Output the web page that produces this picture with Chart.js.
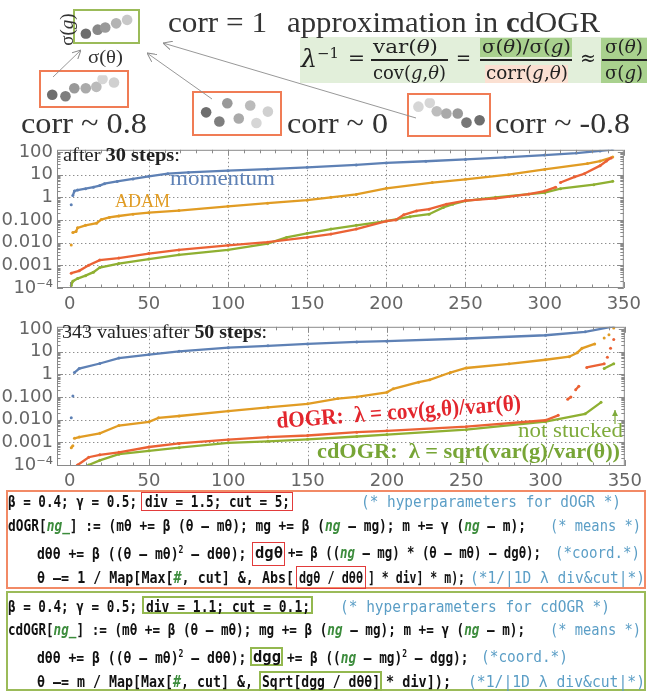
<!DOCTYPE html>
<html>
<head>
<meta charset="utf-8">
<script src="https://cdn.jsdelivr.net/npm/chart.js@4.4.0/dist/chart.umd.min.js"></script>
<style>
  html, body { margin: 0; padding: 0; background: #fff; overflow: hidden; }
  #page { position: relative; width: 647px; height: 692px; overflow: hidden; color: #333; font-family: "Liberation Serif", serif; }
  .t { position: absolute; white-space: nowrap; line-height: 1; transform-origin: 0 0; }
  .box { position: absolute; box-sizing: border-box; }
  canvas { position: absolute; }
  .ng { color: #3c8c3c; font-style: italic; font-weight: bold; }
</style>
</head>
<body>
<div id="page">
  <!-- boxes of the top sketch -->
  <div class="box" style="left:73px;top:9px;width:67px;height:35px;border:2px solid #9bbb59"></div>
  <div class="box" style="left:39px;top:70px;width:90px;height:38px;border:2px solid #f07c55"></div>
  <div class="box" style="left:192px;top:91px;width:90px;height:45px;border:2px solid #f07c55"></div>
  <div class="box" style="left:407px;top:93px;width:84px;height:44px;border:2px solid #f07c55"></div>
  <canvas id="ic1" width="67" height="35" style="left:73px;top:9px"></canvas>
  <canvas id="ic2" width="90" height="38" style="left:39px;top:70px"></canvas>
  <canvas id="ic3" width="90" height="45" style="left:192px;top:91px"></canvas>
  <canvas id="ic4" width="84" height="44" style="left:407px;top:93px"></canvas>

  <!-- formula background -->
  <div class="box" style="left:300px;top:37px;width:347px;height:46px;background:#e2efda"></div>
  <div class="box" style="left:480px;top:38px;width:92px;height:19px;background:#a9d18e"></div>
  <div class="box" style="left:485px;top:65px;width:83px;height:18px;background:#fbe0d2"></div>
  <div class="box" style="left:601px;top:38px;width:46px;height:45px;background:#a9d18e"></div>
  <div class="box" style="left:371px;top:59px;width:77px;height:1.5px;background:#222"></div>
  <div class="box" style="left:480px;top:59px;width:92px;height:1.5px;background:#222"></div>
  <div class="box" style="left:602px;top:59px;width:45px;height:1.5px;background:#222"></div>

  <canvas id="c1" width="647" height="180" style="left:0;top:135px"></canvas>
  <canvas id="c2" width="647" height="180" style="left:0;top:312px"></canvas>

  <!-- code boxes -->
  <div class="box" style="left:6px;top:490px;width:640px;height:99px;border:2px solid #f28a66"></div>
  <div class="box" style="left:6px;top:591px;width:640px;height:100px;border:2px solid #9bbb59"></div>
  <div class="box" style="left:141px;top:492px;width:152px;height:19px;border:1.5px solid #e23b3b"></div>
  <div class="box" style="left:252px;top:542px;width:33px;height:24px;border:1.5px solid #e23b3b"></div>
  <div class="box" style="left:296px;top:566px;width:70px;height:23px;border:1.5px solid #e23b3b"></div>
  <div class="box" style="left:142px;top:596px;width:171px;height:18px;border:2px solid #93b84f"></div>
  <div class="box" style="left:250px;top:647px;width:33px;height:19px;border:2px solid #93b84f"></div>
  <div class="box" style="left:259px;top:671px;width:123px;height:20px;border:2px solid #93b84f"></div>

  <svg width="647" height="692" style="position:absolute;left:0;top:0">
    <defs>
      <marker id="ah" viewBox="0 0 10 10" refX="10" refY="5" markerWidth="9" markerHeight="9" orient="auto" markerUnits="userSpaceOnUse">
        <path d="M0,0 L10,5 L0,10" fill="none" stroke="#8c8c8c" stroke-width="1.1"/>
      </marker>
      <marker id="ahg" viewBox="0 0 10 10" refX="10" refY="5" markerWidth="6" markerHeight="6" orient="auto" markerUnits="userSpaceOnUse">
        <path d="M0,0 L10,5 L0,10 Z" fill="#7fab3c"/>
      </marker>
    </defs>
    <line x1="53" y1="77" x2="81" y2="50" stroke="#8c8c8c" stroke-width="0.9" marker-end="url(#ah)"/>
    <line x1="212" y1="99" x2="147" y2="53" stroke="#8c8c8c" stroke-width="0.9" marker-end="url(#ah)"/>
    <line x1="416" y1="118" x2="163" y2="43" stroke="#8c8c8c" stroke-width="0.9" marker-end="url(#ah)"/>
    <line x1="615" y1="424" x2="615" y2="410" stroke="#7fab3c" stroke-width="1.2" marker-end="url(#ahg)"/>
  </svg>
</div>

<script>
// ----- data -----
const xTicks = [0, 50, 100, 150, 200, 250, 300, 350]
const yTicks = [1e-4, 1e-3, 1e-2, 1e-1, 1, 10, 100]
const yTickLabels = ['10⁻⁴', '0.001', '0.010', '0.100', '1', '10', '100']

// after 30 steps: [index, value], null = gap
const momentum30 = [[1,0.47], null, [2,1.2],[3,1.9],[5,2.1],[10,2.4],[15,2.8],[19,3.3],[22,4],[30,5],[40,6.5],[50,8.5],[62,11],[75,12.5],[100,15],[125,17.5],[150,21],[181,27],[200,33],[225,39],[250,47],[275,58],[300,73],[320,90],[335,112],[343,128]]
const adam30 = [[1,0.0079], null, [2,0.028],[4,0.031],[5,0.045],[10,0.058],[17,0.072],[20,0.105],[25,0.13],[31,0.15],[40,0.18],[50,0.21],[69,0.26],[100,0.4],[125,0.55],[150,0.75],[165,1.0],[181,1.35],[200,2.5],[229,4.5],[250,6.2],[277,10],[300,17],[327,31],[335,40],[343,60]]
const dogr30 = [[1,0.00045],[6,0.00057],[12,0.001],[19,0.0017],[31,0.0021],[50,0.0033],[69,0.0048],[100,0.0076],[125,0.0105],[150,0.017],[165,0.024],[181,0.04],[200,0.09],[206,0.1],[211,0.17],[219,0.25],[227,0.3],[238,0.5],[250,0.72],[269,0.9],[290,1.4],[300,1.9],[307,2.8], null, [310,4.5],[319,8],[325,11],[335,25],[339,40],[342,55]]
const cdogr30 = [[1,0.00013],[2,0.0002],[5,0.00026],[10,0.00035],[15,0.0005],[19,0.0008],[31,0.0012],[50,0.0019],[69,0.0029],[100,0.0048],[125,0.009],[137,0.017],[150,0.026],[165,0.04],[181,0.058],[200,0.09],[215,0.14],[227,0.18],[236,0.36],[242,0.5],[250,0.7],[269,1.0],[300,1.6],[310,2.4],[331,3.6],[343,5.1]]

// after 50 steps
const momentum50 = [[1,0.012], null, [2,0.11], null, [3,1.2],[6,1.8],[19,3],[31,5.2],[50,7.4],[69,10.3],[100,15],[125,18],[150,22],[181,27],[200,29],[250,38],[300,53],[325,75],[343,130]]
const adam50 = [[1,0.00058],[2,0.0007], null, [3,0.0015],[6,0.0017],[19,0.0025],[31,0.0055],[50,0.008],[56,0.012],[69,0.0145],[100,0.024],[125,0.035],[150,0.05],[169,0.085],[181,0.1],[200,0.16],[204,0.23],[220,0.45],[227,0.57],[240,1.2],[250,1.9],[277,2.9],[300,4.4],[315,6],[320,9],[323,14],[331,22], null, [337,40], null, [340,56], null, [343,110]]
const dogr50 = [[1,0.00006],[5,0.0001],[12,0.00022],[19,0.00028],[31,0.00036],[50,0.00062],[69,0.00089],[100,0.0013],[125,0.0017],[150,0.002],[181,0.0028],[200,0.0032],[250,0.0049],[300,0.0094],[308,0.0155], null, [314,0.08],[316,0.1], null, [319,0.21],[321,0.3], null, [326,2.0],[337,2.9], null, [339,5.7], null, [341,14], null, [343,34]]
const cdogr50 = [[1,0.00003],[12,0.0001],[19,0.00016],[31,0.0003],[50,0.00042],[69,0.00058],[100,0.00095],[125,0.0011],[150,0.00135],[181,0.0018],[200,0.0022],[250,0.0036],[300,0.0081],[325,0.018],[335,0.058], null, [337,1.8],[343,2.95]]

// little sketches: dot positions inside each box
const dotsCorr1 = [[9,28],[23,22],[32,19],[45,13],[58,8]]
const dotsCorr08 = [[9,27],[24,29],[34,18],[47,18],[59,16],[66,5],[79,10]]
const dotsCorr0 = [[10,21],[25,33],[34,9],[47,29],[60,12],[67,35],[80,20]]
const dotsCorrNeg = [[7,11],[20,6],[28,17],[39,20],[52,20],[62,32],[77,29]]

const shades1 = ['#6e6e6e','#888','#999','#b4b4b4','#c8c8c8']
const shades2 = ['#6e6e6e','#7e7e7e','#999','#aaa','#bbb','#d6d6d6','#d0d0d0']
const shadesNeg = ['#d6d6d6','#d6d6d6','#bdbdbd','#aaa','#999','#777','#6e6e6e']

const BLUE = '#5e81b5', ORANGE = '#e19c24', GREEN = '#8fb032', RED = '#eb6235'

// ----- helpers -----
function pts(list) {
  return list.map((p, i) => p ? {x: p[0], y: p[1]} : {x: list[i - 1][0] + 0.5, y: null})
}

const frame = {
  id: 'frame',
  beforeDatasetsDraw(chart) {
    const {ctx, chartArea: a, scales: {x, y}} = chart
    ctx.save()
    ctx.strokeStyle = '#8e8e8e'
    ctx.lineWidth = 1
    ctx.setLineDash([1.4, 2.6])
    xTicks.forEach(v => {
      const px = Math.round(x.getPixelForValue(v)) + 0.5
      if (px <= a.left + 2 || px >= a.right - 2 || v === 0) return
      ctx.beginPath(); ctx.moveTo(px, a.top); ctx.lineTo(px, a.bottom); ctx.stroke()
    })
    yTicks.forEach(v => {
      const py = Math.round(y.getPixelForValue(v)) + 0.5
      if (py <= a.top + 3 || py >= a.bottom - 2) return
      ctx.beginPath(); ctx.moveTo(a.left, py); ctx.lineTo(a.right, py); ctx.stroke()
    })
    ctx.restore()
  },
  afterDatasetsDraw(chart) {
    const {ctx, chartArea: a, scales: {x, y}} = chart
    ctx.save()
    ctx.strokeStyle = '#8a8a8a'
    ctx.lineWidth = 1
    ctx.setLineDash([])
    ctx.strokeRect(a.left + 0.5, a.top + 0.5, a.right - a.left - 1, a.bottom - a.top - 1)
    ctx.beginPath()
    for (let v = 0; v <= 350; v += 10) {
      const px = Math.round(x.getPixelForValue(v)) + 0.5
      const len = v % 50 === 0 ? 6 : 3.5
      ctx.moveTo(px, a.bottom); ctx.lineTo(px, a.bottom - len)
      ctx.moveTo(px, a.top); ctx.lineTo(px, a.top + len)
    }
    for (let e = -4; e <= 2; e++) {
      for (let k = 1; k <= 9; k++) {
        const v = k * Math.pow(10, e)
        if (v > 125 || v < y.min) continue
        const py = Math.round(y.getPixelForValue(v)) + 0.5
        const len = k === 1 ? 6 : 3.5
        ctx.moveTo(a.left, py); ctx.lineTo(a.left + len, py)
        ctx.moveTo(a.right, py); ctx.lineTo(a.right - len, py)
      }
    }
    ctx.stroke()
    ctx.restore()
  }
}

function makeChart(id, series, yMin, padBottom, labelPad) {
  new Chart(document.getElementById(id), {
    type: 'scatter',
    data: {
      datasets: series.map(s => ({
        data: pts(s.data),
        showLine: true,
        spanGaps: false,
        borderColor: s.color,
        backgroundColor: s.color,
        borderWidth: 2.3,
        pointRadius: 1.5,
        pointBorderWidth: 0,
        pointHoverRadius: 0,
        clip: 0
      }))
    },
    options: {
      responsive: false,
      animation: false,
      events: [],
      layout: {padding: {left: 0, top: 10, right: 17, bottom: padBottom}},
      plugins: {legend: {display: false}, tooltip: {enabled: false}},
      scales: {
        x: {
          type: 'linear', min: -8, max: 350,
          grid: {display: false, drawTicks: false}, border: {display: false},
          afterBuildTicks: s => { s.ticks = xTicks.map(v => ({value: v})) },
          afterFit: s => { s.height = 22 },
          ticks: {color: '#666', padding: labelPad, autoSkip: false, maxRotation: 0,
            font: {family: 'DejaVu Sans', size: 18}}
        },
        y: {
          type: 'logarithmic', min: yMin, max: 125,
          grid: {display: false, drawTicks: false}, border: {display: false},
          afterBuildTicks: s => { s.ticks = yTicks.map(v => ({value: v})) },
          afterFit: s => { s.width = 57 },
          ticks: {
            color: '#666', padding: 4, autoSkip: false, font: {family: 'DejaVu Sans', size: 18},
            callback: (v, i) => yTickLabels[i]
          }
        }
      }
    },
    plugins: [frame]
  })
}

function icon(id, w, h, dots, shades) {
  new Chart(document.getElementById(id), {
    type: 'scatter',
    data: {datasets: [{
      data: dots.map(p => ({x: p[0], y: p[1]})),
      pointRadius: 5.3, pointBorderWidth: 0, pointBackgroundColor: shades
    }]},
    options: {
      responsive: false, animation: false, events: [],
      layout: {padding: 0},
      plugins: {legend: {display: false}, tooltip: {enabled: false}},
      scales: {
        x: {display: false, min: 0, max: w},
        y: {display: false, min: 0, max: h, reverse: true}
      }
    }
  })
}

makeChart('c1', [
  {data: dogr30, color: RED}, {data: cdogr30, color: GREEN},
  {data: adam30, color: ORANGE}, {data: momentum30, color: BLUE}
], 1e-4, 5, 6)
makeChart('c2', [
  {data: dogr50, color: RED}, {data: cdogr50, color: GREEN},
  {data: adam50, color: ORANGE}, {data: momentum50, color: BLUE}
], 0.9e-4, 4, 5)

icon('ic1', 67, 35, dotsCorr1, shades1)
icon('ic2', 90, 38, dotsCorr08, shades2)
icon('ic3', 90, 45, dotsCorr0, shades2)
icon('ic4', 84, 44, dotsCorrNeg, shadesNeg)

// ----- text -----
const page = document.getElementById('page')
const SERIF = '"Liberation Serif", serif', MATH = '"DejaVu Serif", serif', MONO = '"DejaVu Sans Mono", monospace'

function put(x, base, w, html, font, fs, color, extra, rot) {
  const r = font === SERIF ? 0.8375 : 0.846
  const d = document.createElement('div')
  d.className = 't'
  d.innerHTML = html
  d.style.cssText += `left:${x}px;top:${(base - r * fs).toFixed(1)}px;font-family:${font};font-size:${fs}px;color:${color};` + (extra || '')
  page.appendChild(d)
  let tf = ''
  if (rot) { d.style.transformOrigin = `0 ${(r * fs).toFixed(1)}px`; tf += `rotate(${rot}deg) ` }
  if (w) tf += `scaleX(${(w / d.getBoundingClientRect().width).toFixed(4)})`
  d.style.transform = tf
  return d
}

// top sketch
put(168, 32, 99, 'corr = 1', SERIF, 30, '#333')
put(287, 32, 313, 'approximation in <b>c</b>dOGR', SERIF, 30, '#333')
put(21, 133, 126, 'corr ~ 0.8', SERIF, 30, '#333')
put(287, 133, 101, 'corr ~ 0', SERIF, 30, '#333')
put(495, 133, 135, 'corr ~ -0.8', SERIF, 30, '#333')
put(88, 63, 35, 'σ(θ)', SERIF, 19, '#333')
const sg = put(43, 35, 0, 'σ(<i>g</i>)', SERIF, 19, '#333')
sg.style.transformOrigin = '50% 50%'
sg.style.transform = 'rotate(-90deg)'
sg.style.left = (59 - sg.getBoundingClientRect().width / 2) + 'px'
sg.style.top = (29 - 9.5) + 'px'

// formula
put(301, 66, 38, '<i>λ</i><sup style="font-size:14px;font-style:normal">−1</sup>', MATH, 24, '#222')
put(348, 66, 17, '=', MATH, 21, '#222')
put(373, 53, 65, 'var(<i>θ</i>)', MATH, 19, '#222')
put(373, 79, 73, 'cov(<i>g</i>,<i>θ</i>)', MATH, 19, '#222')
put(456, 66, 15, '=', MATH, 21, '#222')
put(482, 53, 89, 'σ(<i>θ</i>)/σ(<i>g</i>)', MATH, 19, '#222')
put(486, 79, 82, 'corr(<i>g</i>,<i>θ</i>)', MATH, 19, '#222')
put(580, 66, 16, '≈', MATH, 21, '#222')
put(605, 53, 38, 'σ(<i>θ</i>)', MATH, 19, '#222')
put(605, 79, 38, 'σ(<i>g</i>)', MATH, 19, '#222')

// chart labels
put(63, 161.5, 117, 'after <b>30 steps</b>:', SERIF, 18, '#222')
put(170, 186, 105, 'momentum', SERIF, 21, BLUE)
put(115, 207, 55, 'ADAM', SERIF, 18, ORANGE)
put(62, 338, 205, '343 values after <b>50 steps</b>:', SERIF, 18, '#222')
put(277, 428, 245, '<b>dOGR:&nbsp; λ = cov(g,θ)/var(θ)</b>', SERIF, 23, '#e3262d', '', -4.2)
put(518, 438, 105, 'not stucked', SERIF, 21, '#7fab3c')
put(317, 458, 303, '<b>cdOGR:&nbsp; λ = sqrt(var(g)/var(θ))</b>', SERIF, 22, '#77a536')

// code
const CODE = 'font-weight:bold;'
const CM = '#5b9ec6'
const ng = '<span class="ng">ng</span>'
const ngU = '<span class="ng">ng_</span>'
const hash = '<span class="ng">#</span>'
const code = [
  [8, 507, 129, 'β = 0.4; γ = 0.5;'],
  [145, 507, 145, 'div = 1.5; cut = 5;'],
  [8, 531, 518, `dOGR[${ngU}] := (mθ += β (θ – mθ); mg += β (${ng} – mg); m += γ (${ng} – m);`],
  [37, 558, 211, 'dθθ += β ((θ – mθ)<sup>2</sup> – dθθ);'],
  [255, 558, 28, 'dgθ'],
  [288, 558, 253, `+= β ((${ng} – mg) * (θ – mθ) – dgθ);`],
  [37, 583, 257, `θ –= 1 / Map[Max[${hash}, cut] &, Abs[`],
  [299, 583, 64, 'dgθ / dθθ'],
  [368, 583, 97, '] * div] * m);'],
  [8, 612, 129, 'β = 0.4; γ = 0.5;'],
  [146, 612, 164, 'div = 1.1; cut = 0.1;'],
  [8, 635, 517, `cdOGR[${ngU}] := (mθ += β (θ – mθ); mg += β (${ng} – mg); m += γ (${ng} – m);`],
  [37, 662, 211, 'dθθ += β ((θ – mθ)<sup>2</sup> – dθθ);'],
  [253, 662, 28, 'dgg'],
  [287, 662, 183, `+= β ((${ng} – mg)<sup>2</sup> – dgg);`],
  [37, 687, 216, `θ –= m / Map[Max[${hash}, cut] &,`],
  [262, 687, 118, 'Sqrt[dgg / dθθ]'],
  [386, 687, 65, '* div]);']
]
const comments = [
  [361, 507, 260, '(* hyperparameters for dOGR *)'],
  [550, 531, 91, '(* means *)'],
  [555, 558, 85, '(*coord.*)'],
  [470, 583, 175, '(*1/|1D λ div&amp;cut|*)'],
  [340, 612, 270, '(* hyperparameters for cdOGR *)'],
  [550, 635, 91, '(* means *)'],
  [481, 662, 87, '(*coord.*)'],
  [468, 687, 177, '(*1/|1D λ div&amp;cut|*)']
]
code.forEach(c => put(c[0], c[1], c[2], c[3], MONO, 16, '#111', CODE))
comments.forEach(c => put(c[0], c[1], c[2], c[3], MONO, 16, CM))
document.querySelectorAll('sup').forEach(s => { if (!s.style.fontSize) { s.style.fontSize = '10px'; s.style.verticalAlign = '6px' } })
</script>
</body>
</html>
